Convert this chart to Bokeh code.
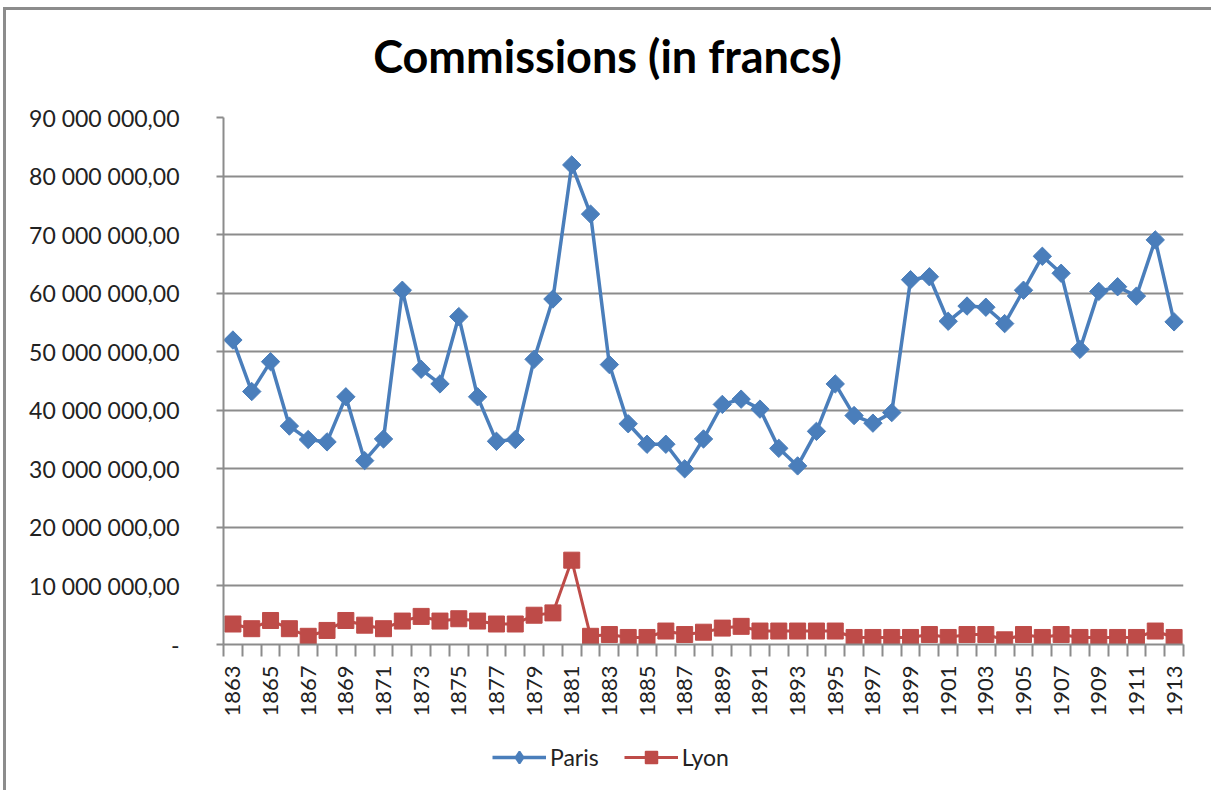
import numpy as np
from bokeh.plotting import figure
from bokeh.layouts import column
from bokeh.models import Range1d, FixedTicker, Legend, LegendItem, Label
from bokeh.embed import file_html
from bokeh.resources import INLINE

# ---------------- data ----------------
years = list(range(1863, 1914))

# commissions in millions of francs
paris_m = [52.0, 43.2, 48.3, 37.3, 35.0, 34.6, 42.3, 31.4, 35.1, 60.5,
           47.0, 44.5, 56.0, 42.3, 34.7, 35.0, 48.7, 59.0, 81.9, 73.5,
           47.8, 37.7, 34.2, 34.2, 30.0, 35.1, 41.0, 41.9, 40.2, 33.5,
           30.5, 36.4, 44.5, 39.1, 37.8, 39.6, 62.3, 62.8, 55.2, 57.8,
           57.6, 54.8, 60.5, 66.3, 63.4, 50.4, 60.3, 61.1, 59.5, 69.1,
           55.1]
lyon_m = [3.5, 2.7, 4.1, 2.7, 1.4, 2.4, 4.1, 3.3, 2.7, 4.0,
          4.8, 4.0, 4.4, 4.0, 3.5, 3.5, 5.0, 5.4, 14.4, 1.4,
          1.7, 1.2, 1.2, 2.3, 1.7, 2.1, 2.8, 3.1, 2.3, 2.3,
          2.3, 2.3, 2.3, 1.2, 1.2, 1.2, 1.2, 1.7, 1.2, 1.7,
          1.7, 0.8, 1.7, 1.2, 1.7, 1.2, 1.2, 1.2, 1.2, 2.3,
          1.2]

series_names = ["Paris", "Lyon"]
title_text = "Commissions (in francs)"

y_tick_values = [0, 10000000, 20000000, 30000000, 40000000,
                 50000000, 60000000, 70000000, 80000000, 90000000]
y_tick_labels = ["-", "10 000 000,00", "20 000 000,00", "30 000 000,00",
                 "40 000 000,00", "50 000 000,00", "60 000 000,00",
                 "70 000 000,00", "80 000 000,00", "90 000 000,00"]
x_label_years = [y for y in years if y % 2 == 1]

# ---------------- styling ----------------
FONT = "Lato"
BLUE = "#4a7ebb"
RED = "#be4b48"
GRID = "#8c8c8c"
TEXT = "#222222"
W = 1205

paris = [v * 1e6 for v in paris_m]
lyon = [v * 1e6 for v in lyon_m]


def bare_figure(height):
    f = figure(width=W, height=height, output_backend="svg",
               toolbar_location=None, x_axis_type=None, y_axis_type=None,
               x_range=Range1d(0, 1), y_range=Range1d(0, 1),
               min_border=0, outline_line_color=None,
               background_fill_color="white", border_fill_color="white")
    f.grid.visible = False
    return f


# ---------------- title ----------------
# (frames of the stacked figures are aligned with the main chart's frame)
tf = bare_figure(90)
tf.add_layout(Label(x=384, y=45, x_units="screen", y_units="screen",
                    text=title_text, text_font=FONT, text_font_size="45px",
                    text_font_style="bold", text_color="black",
                    text_align="center", text_baseline="middle"))

# ---------------- main chart ----------------
p = figure(width=W, height=624, output_backend="svg", toolbar_location=None,
           x_range=Range1d(years[0] - 0.5, years[-1] + 0.5),
           y_range=Range1d(0, 90000000),
           min_border_left=217, min_border_right=28,
           min_border_top=17, min_border_bottom=80,
           outline_line_color=None,
           background_fill_color="white", border_fill_color="white")

# y axis
p.yaxis.ticker = FixedTicker(ticks=y_tick_values, minor_ticks=[])
p.yaxis.major_label_overrides = {v: s for v, s in zip(y_tick_values, y_tick_labels)}
p.yaxis.axis_line_color = GRID
p.yaxis.axis_line_width = 2
p.yaxis.major_tick_line_color = GRID
p.yaxis.major_tick_line_width = 2
p.yaxis.major_tick_out = 7
p.yaxis.major_tick_in = 0
p.yaxis.minor_tick_line_color = None
p.yaxis.major_label_standoff = 37
p.yaxis.major_label_text_font = FONT
p.yaxis.major_label_text_font_size = "23px"
p.yaxis.major_label_text_color = TEXT

# x axis
boundaries = [y - 0.5 for y in years] + [years[-1] + 0.5]
p.xaxis.ticker = FixedTicker(ticks=x_label_years, minor_ticks=boundaries)
p.xaxis.axis_line_color = GRID
p.xaxis.axis_line_width = 2
p.xaxis.major_tick_line_color = None
p.xaxis.major_tick_out = 0
p.xaxis.major_tick_in = 0
p.xaxis.minor_tick_line_color = GRID
p.xaxis.minor_tick_line_width = 2
p.xaxis.minor_tick_out = 12
p.xaxis.minor_tick_in = 0
p.xaxis.major_label_orientation = np.pi / 2
p.xaxis.major_label_standoff = 9
p.xaxis.major_label_text_font = FONT
p.xaxis.major_label_text_font_size = "22px"
p.xaxis.major_label_text_color = TEXT

p.xgrid.grid_line_color = None
p.ygrid.grid_line_color = GRID
p.ygrid.grid_line_width = 2

# series
p.line(years, paris, line_color=BLUE, line_width=3.5)
p.scatter(years, paris, marker="square", angle=np.pi / 4, size=13,
          fill_color=BLUE, line_color=BLUE)
p.line(years, lyon, line_color=RED, line_width=3)
p.scatter(years, lyon, marker="square", size=16,
          fill_color=RED, line_color=RED)

# ---------------- legend ----------------
# legend strip: same series, kept outside its (0..1) view so only the keys show
lf = bare_figure(66)
lpl = lf.line(years, paris, line_color=BLUE, line_width=3.5)
lps = lf.scatter(years, paris, marker="diamond", size=12,
                 fill_color=BLUE, line_color=BLUE, line_width=2)
lll = lf.line(years, lyon, line_color=RED, line_width=3)
lls = lf.scatter(years, lyon, marker="square", size=13,
                 fill_color=RED, line_color=RED, line_width=1.5)
legend = Legend(items=[LegendItem(label=series_names[0], renderers=[lpl, lps]),
                       LegendItem(label=series_names[1], renderers=[lll, lls])],
                orientation="horizontal", location=(269, 18),
                padding=0, margin=0, spacing=25,
                glyph_width=54, glyph_height=30, label_height=30,
                label_standoff=4,
                label_text_font=FONT, label_text_font_size="23px",
                label_text_color=TEXT,
                border_line_color=None, background_fill_alpha=0)
lf.add_layout(legend)

layout = column(tf, p, lf, spacing=0,
                styles={"margin-top": "7px", "margin-left": "3px",
                        "border-top": "3px solid #8c8c8c",
                        "border-left": "3px solid #8c8c8c"})

open("out.html", "w").write(file_html(layout, INLINE))
